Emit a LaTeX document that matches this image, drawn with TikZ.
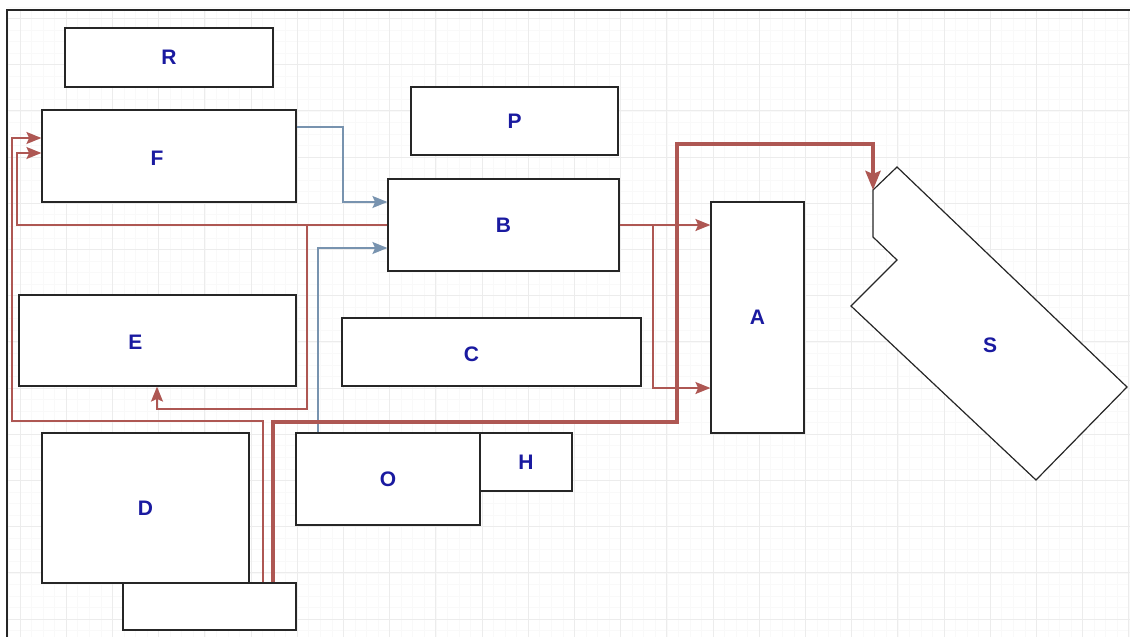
\documentclass[tikz,border=0pt]{standalone}
\usepackage{fontspec}
\setsansfont{Liberation Sans}
\usetikzlibrary{arrows.meta}
\definecolor{lblblue}{HTML}{1A1AA0}
\definecolor{linkred}{HTML}{AE5753}
\definecolor{linkblue}{HTML}{7893AF}
\begin{document}
\begin{tikzpicture}[
    x=0.5pt, y=-0.5pt,
    box/.style={
        draw=black!85,
        line width=0.6pt,
        fill=white,
        inner sep=0pt,
        font=\sffamily\bfseries\fontsize{10.5}{12}\selectfont,
        text=lblblue
    },
    lbl/.style={font=\sffamily\bfseries\fontsize{10.5}{12}\selectfont, text=lblblue},
    redarr/.style={-{Stealth[length=7.5pt, width=6pt, inset=1.4pt]}, line width=1pt, draw=linkred},
    bluarr/.style={-{Stealth[length=7.5pt, width=6pt, inset=1.4pt]}, line width=1pt, draw=linkblue},
    bigarr/.style={-{Stealth[length=9.5pt, width=7.5pt, inset=1.5pt]}, line width=2.2pt, draw=linkred}
]
    \useasboundingbox (0,0) rectangle (1130,637);
    % grid
    \foreach \i in {0,...,97}
        \draw[gray!5, line width=0.3pt] ({20+11.55*(\i-1)},10) -- ({20+11.55*(\i-1)},637);
    \foreach \i in {0,...,55}
        \draw[gray!5, line width=0.3pt] (7,{18.4+11.55*(\i-1)}) -- (1130,{18.4+11.55*(\i-1)});
    \foreach \i in {0,...,24}
        \draw[gray!15, line width=0.4pt] ({20+46.2*\i},10) -- ({20+46.2*\i},637);
    \foreach \i in {0,...,13}
        \draw[gray!15, line width=0.4pt] (7,{18.4+46.2*\i}) -- (1130,{18.4+46.2*\i});
    \draw[black!85, line width=0.8pt] (7,637) -- (7,10) -- (1130,10);

    \node[box, minimum width=104pt, minimum height=29.5pt] (r) at (169,57.5) {R};
    \node[box, minimum width=127pt, minimum height=46pt,
        label={[lbl, xshift=-6pt, yshift=-1pt]center:F}] (f) at (169,156) {};
    \node[box, minimum width=103.5pt, minimum height=34pt] (p) at (514.5,121) {P};
    \node[box, minimum width=115.5pt, minimum height=46pt] (b) at (503.5,225) {B};
    \node[box, minimum width=138.5pt, minimum height=45.5pt,
        label={[lbl, xshift=-11pt, yshift=-1pt]center:E}] (e) at (157.5,340.5) {};
    \node[box, minimum width=149.5pt, minimum height=34pt,
        label={[lbl, xshift=-10pt, yshift=-1pt]center:C}] (c) at (491.5,352) {};
    \node[box, minimum width=46.5pt, minimum height=115.5pt] (a) at (757.5,317.5) {A};
    \node[box, minimum width=103.5pt, minimum height=75pt] (d) at (145.5,508) {D};
    \node[box, minimum width=86.5pt, minimum height=23.5pt] (base) at (209.5,606.5) {};
    \node[box, minimum width=92pt, minimum height=46pt] (o) at (388,479) {O};
    \node[box, minimum width=46pt, minimum height=29pt] (h) at (526,462) {H};

    \draw[draw=black!85, line width=0.6pt, fill=white]
        (873,190) -- (897,167) -- (1127,387) -- (1036,480) -- (851,306)
        -- (897,260) -- (873,237) -- cycle;
    \node[lbl] (s) at (990,345) {S};
    \coordinate (sin) at (873,190);

    \coordinate (split) at (307,225);
    \coordinate (fork) at (653,225);

    \draw[bluarr] (f.east |- 0,127) -| (343,202) -- (b.west |- 0,202);
    \draw[bluarr] (o.north -| 318,0) -- (318,248) -- (b.west |- 0,248);

    \draw[redarr] (b.west |- 0,225) -- (split) -- (17,225) -- (17,153) -- (f.west |- 0,153);
    \draw[redarr] (split) -- (307,409) -- (157,409) -- (e.south -| 157,0);
    \draw[redarr] (base.north -| 263,0) -- (263,421) -- (12,421) -- (12,138) -- (f.west |- 0,138);
    \draw[redarr] (b.east |- 0,225) -- (fork) -- (a.west |- 0,225);
    \draw[redarr] (b.east |- 0,225) -- (fork) -- (653,388) -- (a.west |- 0,388);
    \draw[bigarr] (base.north -| 273,0) -- (273,422) -- (677,422) -- (677,144) -- (873,144) -- (sin);
\end{tikzpicture}
\end{document}
